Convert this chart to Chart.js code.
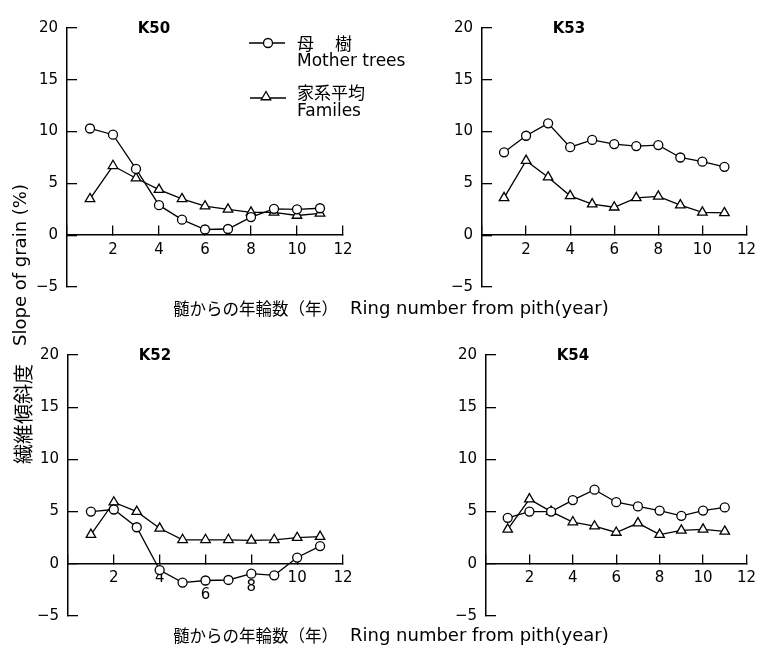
<!DOCTYPE html>
<html>
<head>
<meta charset="utf-8">
<script src="https://cdn.jsdelivr.net/npm/chart.js@4.4.0/dist/chart.umd.min.js"></script>
<style>
  body { margin: 0; background: #fff; }
  #page { position: relative; width: 773px; height: 654px; overflow: hidden; background: #fff; }
  canvas { position: absolute; }
  .t { position: absolute; white-space: nowrap; color: #000; line-height: 1; }
  .jp { font-family: "Noto Sans CJK JP", sans-serif; }
  .en { font-family: "DejaVu Sans", sans-serif; }
  .rot { transform: translate(-50%, -50%) rotate(-90deg); }
</style>
</head>
<body>
<div id="page">
  <canvas id="k50" width="386" height="327" style="left:0;top:0"></canvas>
  <canvas id="k53" width="387" height="327" style="left:386px;top:0"></canvas>
  <canvas id="k52" width="386" height="327" style="left:0;top:327px"></canvas>
  <canvas id="k54" width="387" height="327" style="left:386px;top:327px"></canvas>

  <!-- key text -->
  <div class="t jp" style="left:297px;top:34px;font-size:17px;letter-spacing:2px">母　樹</div>
  <div class="t en" style="left:297px;top:52px;font-size:17px">Mother trees</div>
  <div class="t jp" style="left:297px;top:83px;font-size:17px">家系平均</div>
  <div class="t en" style="left:297px;top:102px;font-size:17px">Familes</div>

  <div class="t jp" style="left:173px;top:300px;font-size:16.5px">髄からの年輪数（年）</div>
  <div class="t en" style="left:350px;top:299px;font-size:18px">Ring number from pith(year)</div>
  <div class="t jp" style="left:173px;top:627px;font-size:16.5px">髄からの年輪数（年）</div>
  <div class="t en" style="left:350px;top:626px;font-size:18px">Ring number from pith(year)</div>

  <div class="t en rot" style="left:20px;top:265px;font-size:18px">Slope of grain (%)</div>
  <div class="t jp rot" style="left:23px;top:414px;font-size:20px">繊維傾斜度</div>
</div>

<script>
// ring number from pith
const rings = [1, 2, 3, 4, 5, 6, 7, 8, 9, 10, 11];
const xTickValues = [0, 2, 4, 6, 8, 10, 12];
const yTickValues = [-5, 0, 5, 10, 15, 20];

// slope of grain (%)
const k50Mother   = [10.3, 9.7, 6.4, 2.9, 1.5, 0.55, 0.6, 1.75, 2.55, 2.5, 2.6];
const k50Families = [3.5, 6.7, 5.5, 4.4, 3.5, 2.8, 2.5, 2.2, 2.2, 1.9, 2.1];
const k53Mother   = [8.0, 9.6, 10.8, 8.5, 9.2, 8.8, 8.6, 8.7, 7.5, 7.1, 6.6];
const k53Families = [3.6, 7.2, 5.6, 3.8, 3.0, 2.7, 3.6, 3.75, 2.9, 2.2, 2.15];
const k52Mother   = [5.0, 5.2, 3.5, -0.6, -1.8, -1.6, -1.55, -0.95, -1.1, 0.6, 1.7];
const k52Families = [2.8, 5.9, 5.0, 3.4, 2.3, 2.3, 2.3, 2.25, 2.3, 2.5, 2.6];
const k54Mother   = [4.4, 5.0, 5.0, 6.1, 7.1, 5.9, 5.5, 5.1, 4.6, 5.1, 5.4];
const k54Families = [3.3, 6.2, 5.0, 4.0, 3.6, 3.0, 3.9, 2.8, 3.2, 3.3, 3.1];

const tickFont = '"DejaVu Sans", sans-serif';

// Panel name (K50 etc.)
const panelName = {
    id: 'panelName',
    afterDraw(chart, args, opts) {
        const ctx = chart.ctx;
        ctx.save();
        ctx.fillStyle = '#000';
        ctx.font = 'bold 15px "DejaVu Sans"';
        ctx.textAlign = 'center';
        ctx.textBaseline = 'middle';
        ctx.fillText(opts.text, chart.chartArea.left + 87, chart.chartArea.top + 1);
        ctx.restore();
    }
};

// Key symbols in the first panel (text is in the page)
const seriesKey = {
    id: 'seriesKey',
    afterDraw(chart, args, opts) {
        if (!opts.show) return;
        const ctx = chart.ctx;
        ctx.save();
        ctx.strokeStyle = '#000';
        ctx.lineWidth = 1.3;

        // circle row
        ctx.beginPath();
        ctx.moveTo(249, 43); ctx.lineTo(285, 43);
        ctx.stroke();
        ctx.beginPath();
        ctx.arc(268, 43, 4.5, 0, Math.PI * 2);
        ctx.fillStyle = '#fff'; ctx.fill(); ctx.stroke();

        // triangle row
        ctx.beginPath();
        ctx.moveTo(250, 98); ctx.lineTo(286, 98);
        ctx.stroke();
        const r = 5.5, tx = 266, ty = 97;
        ctx.beginPath();
        ctx.moveTo(tx, ty - r);
        ctx.lineTo(tx + 0.866 * r, ty + 0.5 * r);
        ctx.lineTo(tx - 0.866 * r, ty + 0.5 * r);
        ctx.closePath();
        ctx.fill(); ctx.stroke();
        ctx.restore();
    }
};

function points(values) {
    return rings.map((r, i) => ({ x: r, y: values[i] }));
}

function makePanel(id, name, mother, families, yWidth, pad, extra) {
    extra = extra || {};
    const drops = extra.drops || {};
    const ctx = document.getElementById(id).getContext('2d');
    new Chart(ctx, {
        type: 'line',
        data: {
            datasets: [{
                label: 'Mother trees',
                data: points(mother),
                borderColor: '#000',
                borderWidth: 1.3,
                pointStyle: 'circle',
                pointRadius: 4.5,
                pointBackgroundColor: '#fff',
                pointBorderColor: '#000',
                pointBorderWidth: 1.3,
                tension: 0
            }, {
                label: 'Familes',
                data: points(families),
                borderColor: '#000',
                borderWidth: 1.3,
                pointStyle: 'triangle',
                pointRadius: 5.5,
                pointBackgroundColor: '#fff',
                pointBorderColor: '#000',
                pointBorderWidth: 1.3,
                tension: 0
            }]
        },
        options: {
            responsive: false,
            animation: false,
            devicePixelRatio: 1,
            layout: { padding: { top: pad.top, right: pad.right, bottom: pad.bottom, left: 0 } },
            plugins: {
                legend: { display: false },
                tooltip: { enabled: false },
                panelName: { text: name },
                seriesKey: { show: !!extra.key }
            },
            scales: {
                x: {
                    type: 'linear',
                    min: 0,
                    max: 12,
                    position: { y: 0 },
                    afterBuildTicks: s => { s.ticks = xTickValues.map(v => ({ value: v })); },
                    afterFit: s => { s.height = 0; },
                    grid: { drawOnChartArea: false, tickLength: -10, color: '#000', lineWidth: 1.3 },
                    border: { color: '#000', width: 1.5 },
                    ticks: {
                        color: '#000',
                        padding: 17,
                        maxRotation: 0,
                        autoSkip: false,
                        font: c => ({ family: tickFont, size: 15, lineHeight: drops[c.tick && c.tick.value] || 1 }),
                        callback: v => v === 0 ? '' : (drops[v] ? ['', String(v)] : String(v))
                    }
                },
                y: {
                    min: -5,
                    max: 20,
                    afterBuildTicks: s => { s.ticks = yTickValues.map(v => ({ value: v })); },
                    afterFit: s => { s.width = yWidth; },
                    grid: { drawOnChartArea: false, tickLength: -10, color: '#000', lineWidth: 1.3 },
                    border: { color: '#000', width: 1.5 },
                    ticks: {
                        color: '#000',
                        padding: 19,
                        font: { family: tickFont, size: 15 },
                        callback: v => v < 0 ? '\u2212' + Math.abs(v) : String(v)
                    }
                }
            }
        },
        plugins: [panelName, seriesKey]
    });
}

makePanel('k50', 'K50', k50Mother, k50Families, 67, { top: 17, right: 43, bottom: 40 }, { key: true });
makePanel('k53', 'K53', k53Mother, k53Families, 96, { top: 17, right: 17, bottom: 40 });
makePanel('k52', 'K52', k52Mother, k52Families, 68, { top: 20, right: 43, bottom: 38 }, { drops: { 6: 1.09, 8: 0.73 } });
makePanel('k54', 'K54', k54Mother, k54Families, 100, { top: 20, right: 13, bottom: 38 });
</script>
</body>
</html>
